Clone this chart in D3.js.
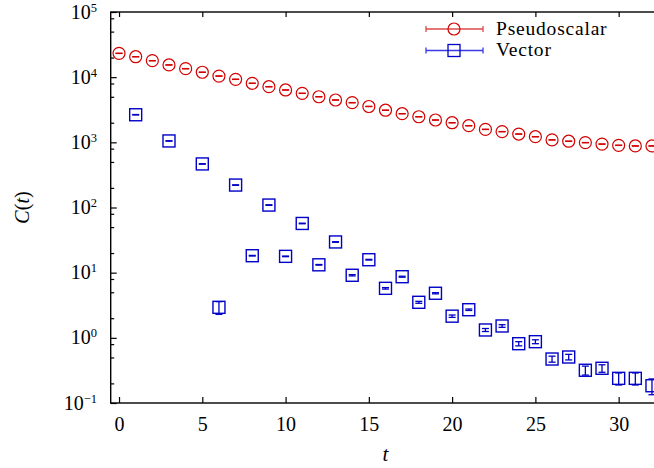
<!DOCTYPE html>
<html><head><meta charset="utf-8">
<script src="https://cdn.jsdelivr.net/npm/d3@7"></script>
<style>
body{margin:0;background:#fff}
svg{display:block}
text{font-family:"Liberation Serif","Times New Roman",serif;fill:#000}
</style>
</head><body>
<svg id="c" width="654" height="468"></svg>
<script>
// ---- data ----
const tValues = [0,1,2,3,4,5,6,7,8,9,10,11,12,13,14,15,16,17,18,19,20,21,22,23,24,25,26,27,28,29,30,31,32];
const pseudoscalar = [23200,20600,17900,15400,13500,11900,10400,9270,8050,7140,6360,5650,5010,4460,4060,3550,3110,2750,2470,2200,2000,1800,1580,1460,1340,1220,1090,1040,990,940,900,880,880];
const pseudoscalarErr = [70,60,55,45,40,35,30,28,24,21,19,17,15,13,12,11,9,8,7,7,6,5,5,4,4,4,3,3,3,3,3,3,3];
const vector = [null,2650,null,1050,null,466,2.94,221,18.2,109,17.8,56.9,13.2,29.6,9.12,15.8,5.75,8.67,3.51,4.83,2.15,2.70,1.32,1.52,0.813,0.873,0.473,0.508,0.318,0.341,0.239,0.239,0.184];
const vectorErr = [null,20,null,8,null,4,0.65,2,0.2,1,0.2,0.6,0.15,0.35,0.2,0.2,0.15,0.15,0.12,0.1,0.09,0.07,0.07,0.07,0.06,0.06,0.05,0.05,0.05,0.045,0.05,0.05,0.05];
const seriesNames = ["Pseudoscalar","Vector"];
const xTickValues = [0,5,10,15,20,25,30];
const yDecadeExps = [-1,0,1,2,3,4,5];
const yMinorMultipliers = [2,5,8];
const xLabel = "t";

// ---- layout ----
const svg = d3.select("#c");
const L = 110.7, R = 660.3, T = 12, B = 403;
const x = d3.scaleLinear().domain([-0.5,32.5]).range([L,R]);
const y = d3.scaleLog().domain([0.1,1e5]).range([B,T]);
const red = "#d40000", blue = "#0000c8";

const decades = yDecadeExps.map(e => Math.pow(10,e));
const minors = [];
yDecadeExps.forEach(e => { if (e < 5) yMinorMultipliers.forEach(m => minors.push(m*Math.pow(10,e))); });

function styleAxis(g){
  g.select(".domain").remove();
  g.selectAll(".tick line").attr("stroke","#000").attr("stroke-width",1.2);
}
// bottom axis
svg.append("g").attr("transform",`translate(0,${B})`)
  .call(d3.axisBottom(x).tickValues(xTickValues).tickSize(-6).tickPadding(13.5).tickFormat(d3.format("d")))
  .call(styleAxis)
  .call(g => g.selectAll("text").attr("font-size",20).attr("font-family","Liberation Serif").attr("fill","#000"));
// top axis
svg.append("g").attr("transform",`translate(0,${T})`)
  .call(d3.axisTop(x).tickValues(xTickValues).tickSize(-5).tickFormat(""))
  .call(styleAxis);
// left axis major/minor
svg.append("g").attr("transform",`translate(${L},0)`)
  .call(d3.axisLeft(y).tickValues(decades).tickSize(-6).tickFormat(""))
  .call(styleAxis);
svg.append("g").attr("transform",`translate(${L},0)`)
  .call(d3.axisLeft(y).tickValues(minors).tickSize(-3.5).tickFormat(""))
  .call(styleAxis);
// right axis
svg.append("g").attr("transform",`translate(${R},0)`)
  .call(d3.axisRight(y).tickValues(decades).tickSize(-6).tickFormat(""))
  .call(styleAxis);

// frame
svg.append("rect").attr("x",L).attr("y",T).attr("width",R-L).attr("height",B-T)
  .attr("fill","none").attr("stroke","#000").attr("stroke-width",1.4);

// y tick labels
const yl = svg.append("g");
yDecadeExps.forEach(e => {
  const t = yl.append("text").attr("x",97).attr("y",y(Math.pow(10,e))+6.5)
    .attr("text-anchor","end").attr("font-size",20);
  t.append("tspan").text("10");
  t.append("tspan").attr("dy",-7).attr("font-size",12.5).text(String(e).replace("-","\u2212"));
});

// axis titles
svg.append("text").attr("x",(L+R)/2).attr("y",461).attr("text-anchor","middle")
  .attr("font-size",21).attr("font-style","italic").text(xLabel);
const yt = svg.append("text").attr("transform",`translate(29,${(T+B)/2}) rotate(-90)`)
  .attr("text-anchor","middle").attr("font-size",20);
yt.append("tspan").attr("font-style","italic").text("C");
yt.append("tspan").text("(");
yt.append("tspan").attr("font-style","italic").text("t");
yt.append("tspan").text(")");

// data
const plot = svg.append("g");
function errbars(g, vals, errs, color, w){
  const d = tValues.map((t,i)=>({t, v:vals[i], e:errs[i]})).filter(p => p.v != null);
  const eg = g.append("g").attr("stroke",color).attr("stroke-width",w);
  d.forEach(p => {
    const lo = Math.max(p.v - p.e, 0.01), hi = p.v + p.e;
    const cx = x(p.t);
    eg.append("line").attr("x1",cx).attr("x2",cx).attr("y1",y(lo)).attr("y2",y(hi));
    eg.append("line").attr("x1",cx-3.5).attr("x2",cx+3.5).attr("y1",y(lo)).attr("y2",y(lo));
    eg.append("line").attr("x1",cx-3.5).attr("x2",cx+3.5).attr("y1",y(hi)).attr("y2",y(hi));
  });
  return d;
}
const pd = errbars(plot, pseudoscalar, pseudoscalarErr, red, 1.3);
plot.append("g").selectAll("circle").data(pd).join("circle")
  .attr("cx",d=>x(d.t)).attr("cy",d=>y(d.v)).attr("r",6)
  .attr("fill","none").attr("stroke",red).attr("stroke-width",1.2);
const vd = errbars(plot, vector, vectorErr, blue, 1.3);
plot.append("g").selectAll("rect").data(vd).join("rect")
  .attr("x",d=>x(d.t)-6).attr("y",d=>y(d.v)-6).attr("width",12).attr("height",12)
  .attr("fill","none").attr("stroke",blue).attr("stroke-width",1.4);

// legend
const lg = svg.append("g");
const legendRows = [
  {name:seriesNames[0], color:red, lineColor:"#dd4a4a", y:29, shape:"circle"},
  {name:seriesNames[1], color:blue, lineColor:"#3a3ae6", y:50.5, shape:"square"}
];
legendRows.forEach(r => {
  lg.append("line").attr("x1",426).attr("x2",483).attr("y1",r.y).attr("y2",r.y).attr("stroke",r.lineColor).attr("stroke-width",1.3);
  [426,483].forEach(xx => lg.append("line").attr("x1",xx).attr("x2",xx).attr("y1",r.y-3).attr("y2",r.y+3).attr("stroke",r.lineColor).attr("stroke-width",1.3));
  if (r.shape==="circle") lg.append("circle").attr("cx",454).attr("cy",r.y).attr("r",6).attr("fill","none").attr("stroke",r.color).attr("stroke-width",1.2);
  else lg.append("rect").attr("x",448).attr("y",r.y-6).attr("width",12).attr("height",12).attr("fill","none").attr("stroke",r.color).attr("stroke-width",1.3);
  lg.append("text").attr("x",496).attr("y",r.y+5.5).attr("font-size",19.5).attr("letter-spacing",0.8).text(r.name);
});
</script>
</body></html>
